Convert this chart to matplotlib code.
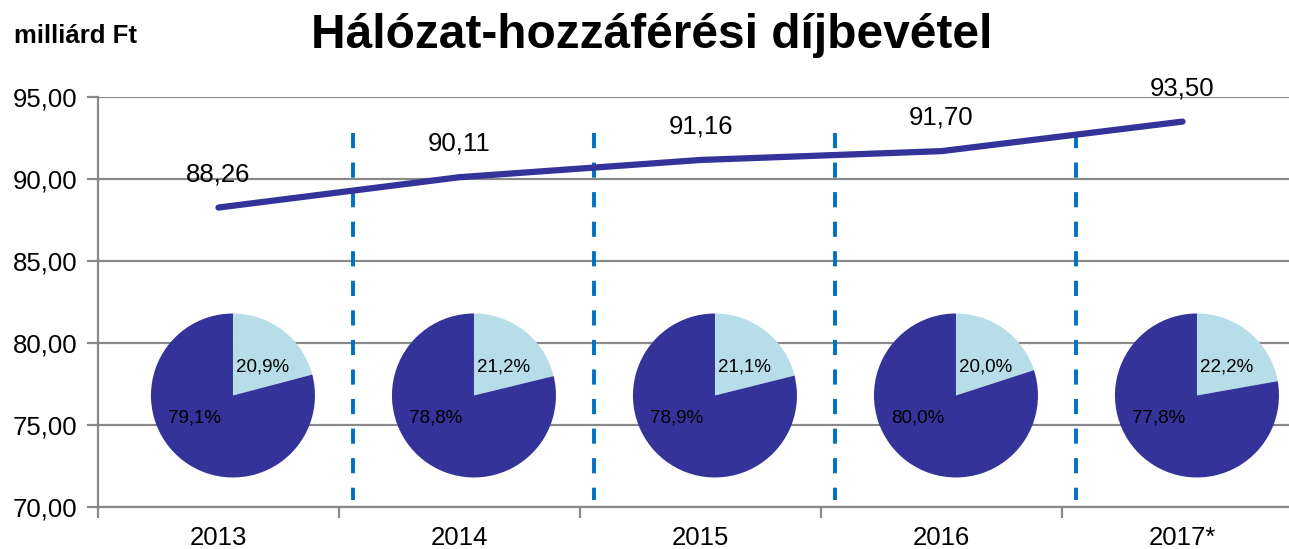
import matplotlib
matplotlib.use('Agg')
import matplotlib.pyplot as plt
from matplotlib.ticker import FuncFormatter, FixedLocator
import numpy as np

plt.rcParams['font.family'] = ['Liberation Sans', 'DejaVu Sans']

# data
years = ['2013', '2014', '2015', '2016', '2017*']
revenue = [88.26, 90.11, 91.16, 91.70, 93.50]
share_light = [20.9, 21.2, 21.1, 20.0, 22.2]
share_dark = [79.1, 78.8, 78.9, 80.0, 77.8]

dark = '#333399'
light = '#B7DEE8'
grid_col = '#898989'

W, H = 1289, 549
fig = plt.figure(figsize=(W / 100, H / 100), dpi=100)

# plot area (right side runs past the picture edge, as in the original)
x0, x1, y_top, y_bot = 98, 1303, 97, 507
ax = fig.add_axes([x0 / W, (H - y_bot) / H, (x1 - x0) / W, (y_bot - y_top) / H])

n = len(years)
xc = np.arange(n) + 0.5
ax.set_xlim(0, n)
ax.set_ylim(70, 95)

ax.yaxis.set_major_locator(FixedLocator(np.arange(70, 95.1, 5)))
ax.yaxis.set_major_formatter(FuncFormatter(lambda v, p: f'{v:.2f}'.replace('.', ',')))
ax.grid(axis='y', color=grid_col, linewidth=1.6)
ax.set_axisbelow(True)

ax.xaxis.set_major_locator(FixedLocator(np.arange(0, n + 1)))
ax.set_xticklabels([], minor=False)
ax.set_xticks(xc, labels=years, minor=True)
ax.tick_params(axis='x', which='major', length=8, width=1.6, color=grid_col)
ax.tick_params(axis='x', which='minor', length=0, pad=14, labelsize=18.5)
ax.tick_params(axis='y', length=8, width=1.6, color=grid_col, labelsize=18.5, pad=7)

for s in ['top', 'right']:
    ax.spines[s].set_visible(False)
for s in ['left', 'bottom']:
    ax.spines[s].set_color(grid_col)
    ax.spines[s].set_linewidth(1.6)

# dashed separators between years
for b in np.arange(1, n) + 0.06:
    ax.plot([b, b], [92.8, 70.4], color='#0070C0', linewidth=2.8,
            dashes=(3.9, 3.7), zorder=2)

# revenue line
ax.plot(xc, revenue, color=dark, linewidth=4.5, solid_capstyle='round', zorder=4)
for x, v in zip(xc, revenue):
    ax.annotate(f'{v:.2f}'.replace('.', ','), (x, v), xytext=(0, 24),
                textcoords='offset points', ha='center', va='center',
                fontsize=18.5, zorder=5)

# pies
r_px = 82
pw = 2 * r_px / ((x1 - x0) / n)
ph = 2 * r_px / (y_bot - y_top) * 25
for i in range(n):
    cx = xc[i] + 0.06
    cy = 76.8
    pax = ax.inset_axes([cx - pw / 2, cy - ph / 2, pw, ph],
                        transform=ax.transData, zorder=3)
    pax.pie([share_light[i], share_dark[i]], colors=[light, dark],
            startangle=90, counterclock=False, radius=1,
            wedgeprops=dict(linewidth=0))
    pax.set_xlim(-1, 1)
    pax.set_ylim(-1, 1)
    pax.set_aspect('equal')
    pax.axis('off')
    pax.text(0.36, 0.35, f'{share_light[i]:.1f}%'.replace('.', ','),
             ha='center', va='center', fontsize=13.5)
    pax.text(-0.47, -0.27, f'{share_dark[i]:.1f}%'.replace('.', ','),
             ha='center', va='center', fontsize=13.5)

fig.text(652 / W, 1 - 35 / H, 'Hálózat-hozzáférési díjbevétel',
         ha='center', va='center', fontsize=34.5, fontweight='bold')
fig.text(14 / W, 1 - 36 / H, 'milliárd Ft', ha='left', va='center',
         fontsize=18.5, fontweight='bold')

fig.savefig('out.png', dpi=100)
